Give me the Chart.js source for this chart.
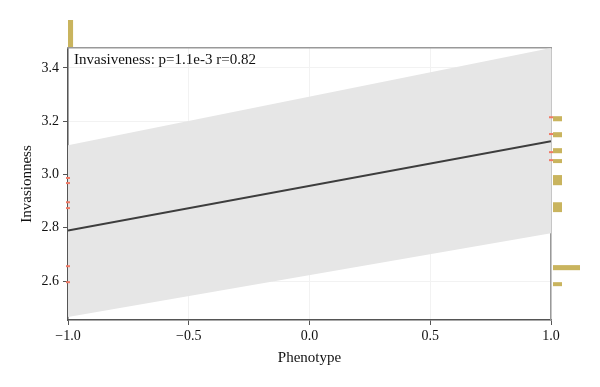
<!DOCTYPE html>
<html>
<head>
<meta charset="utf-8">
<script src="https://cdn.jsdelivr.net/npm/chart.js@4.4.1/dist/chart.umd.min.js"></script>
<style>
  html, body { margin: 0; padding: 0; background: #fff; }
  #wrap { width: 600px; height: 387px; }
</style>
</head>
<body>
<div id="wrap"><canvas id="chart"></canvas></div>
<script>
// Regression line and confidence band at both ends of the phenotype range
const phenotype = [-1, 1];
const fitLine = [2.79, 3.125];
const bandUpper = [3.11, 3.475];
const bandLower = [2.465, 2.78];

// Observed values (rug marks on the left and right axes)
const leftValues = [2.987, 2.968, 2.896, 2.874, 2.656, 2.596];
const rightValues = [3.215, 3.152, 3.084, 3.054];

// Marginal histogram of invasionness (right side)
const histLo = [3.200, 3.140, 3.080, 3.043, 2.960, 2.859, 2.641, 2.581];
const histHi = [3.219, 3.159, 3.099, 3.058, 2.998, 2.896, 2.660, 2.596];
const histCount = [1, 1, 1, 1, 1, 1, 3, 1];

// Marginal histogram of phenotype (top)
const topLo = [-1.0];
const topHi = [-0.979];
const topCount = [3];

const xTicks = [-1, -0.5, 0, 0.5, 1];
const yTicks = [2.6, 2.8, 3.0, 3.2, 3.4];

const serif = "'Liberation Serif', 'DejaVu Serif', serif";

function fmt(v) {
  return v.toFixed(1).replace("-", "\u2212");
}

// Marginal histograms + annotation text
const marginPlugin = {
  id: "margins",
  afterDatasetsDraw(chart) {
    const { ctx, chartArea, scales } = chart;
    const x = scales.x, y = scales.y;
    const unit = 9;
    ctx.save();
    ctx.fillStyle = "#c9b45e";
    // right histogram
    const x0 = x.getPixelForValue(1) + 2;
    histLo.forEach((lo, i) => {
      const yt = y.getPixelForValue(histHi[i]);
      const yb = y.getPixelForValue(lo);
      ctx.fillRect(x0, yt, histCount[i] * unit, yb - yt);
    });
    // top histogram
    const y0 = y.getPixelForValue(y.max) - 1;
    topLo.forEach((lo, i) => {
      const xl = x.getPixelForValue(lo);
      const xr = x.getPixelForValue(topHi[i]);
      ctx.fillRect(xl, y0 - topCount[i] * unit, xr - xl, topCount[i] * unit);
    });
    // annotation
    ctx.fillStyle = "#111";
    ctx.font = "15px " + serif;
    ctx.textBaseline = "middle";
    ctx.fillText("Invasiveness: p=1.1e-3 r=0.82", chartArea.left + 6, chartArea.top + 12);
    ctx.restore();
  }
};

new Chart(document.getElementById("chart"), {
  type: "line",
  data: {
    datasets: [
      {
        label: "upper",
        data: phenotype.map((p, i) => ({ x: p, y: bandUpper[i] })),
        borderWidth: 0,
        pointRadius: 0,
        fill: "+1",
        backgroundColor: "#e6e6e6",
        order: 3
      },
      {
        label: "lower",
        data: phenotype.map((p, i) => ({ x: p, y: bandLower[i] })),
        borderWidth: 0,
        pointRadius: 0,
        fill: false,
        order: 3
      },
      {
        label: "fit",
        data: phenotype.map((p, i) => ({ x: p, y: fitLine[i] })),
        borderColor: "#3d3d3d",
        borderWidth: 2,
        pointRadius: 0,
        fill: false,
        order: 2
      },
      {
        label: "left obs",
        data: leftValues.map(v => ({ x: -1, y: v })),
        showLine: false,
        pointStyle: "line",
        pointRadius: 2,
        borderWidth: 2,
        borderColor: "#f07a66",
        clip: false,
        order: 1
      },
      {
        label: "right obs",
        data: rightValues.map(v => ({ x: 1, y: v })),
        showLine: false,
        pointStyle: "line",
        pointRadius: 2,
        borderWidth: 2,
        borderColor: "#f07a66",
        clip: false,
        order: 1
      }
    ]
  },
  options: {
    responsive: true,
    maintainAspectRatio: false,
    animation: false,
    layout: { padding: { top: 48, right: 49, bottom: 20, left: 0 } },
    plugins: {
      legend: { display: false },
      tooltip: { enabled: false }
    },
    scales: {
      x: {
        type: "linear",
        min: -1,
        max: 1,
        afterBuildTicks: s => { s.ticks = xTicks.map(v => ({ value: v })); },
        afterFit: s => { s.height = 47; },
        grid: { color: "#f2f2f2", tickColor: "#555", tickLength: 5 },
        border: { color: "#555", width: 1.5 },
        ticks: {
          color: "#111",
          padding: 3,
          font: { family: serif, size: 14 },
          callback: v => fmt(v)
        },
        title: {
          display: true,
          text: "Phenotype",
          color: "#111",
          font: { family: serif, size: 15 },
          padding: { top: 0, bottom: 0 }
        }
      },
      y: {
        type: "linear",
        min: 2.454,
        max: 3.475,
        afterBuildTicks: s => { s.ticks = yTicks.map(v => ({ value: v })); },
        afterFit: s => { s.width = 68; },
        grid: { color: "#f2f2f2", tickColor: "#555", tickLength: 5 },
        border: { color: "#555", width: 1.5 },
        ticks: {
          color: "#111",
          padding: 4,
          font: { family: serif, size: 14 },
          callback: v => v.toFixed(1)
        },
        title: {
          display: true,
          text: "Invasionness",
          color: "#111",
          font: { family: serif, size: 15 },
          padding: { top: 18, bottom: 0 }
        }
      },
      xTop: {
        type: "linear",
        position: "top",
        afterFit: s => { s.height = 0; },
        grid: { display: false },
        ticks: { display: false },
        border: { color: "#999", width: 1.5 }
      },
      yRight: {
        type: "linear",
        position: "right",
        afterFit: s => { s.width = 0; },
        grid: { display: false },
        ticks: { display: false },
        border: { color: "#999", width: 1.5 }
      }
    }
  },
  plugins: [marginPlugin]
});
</script>
</body>
</html>
